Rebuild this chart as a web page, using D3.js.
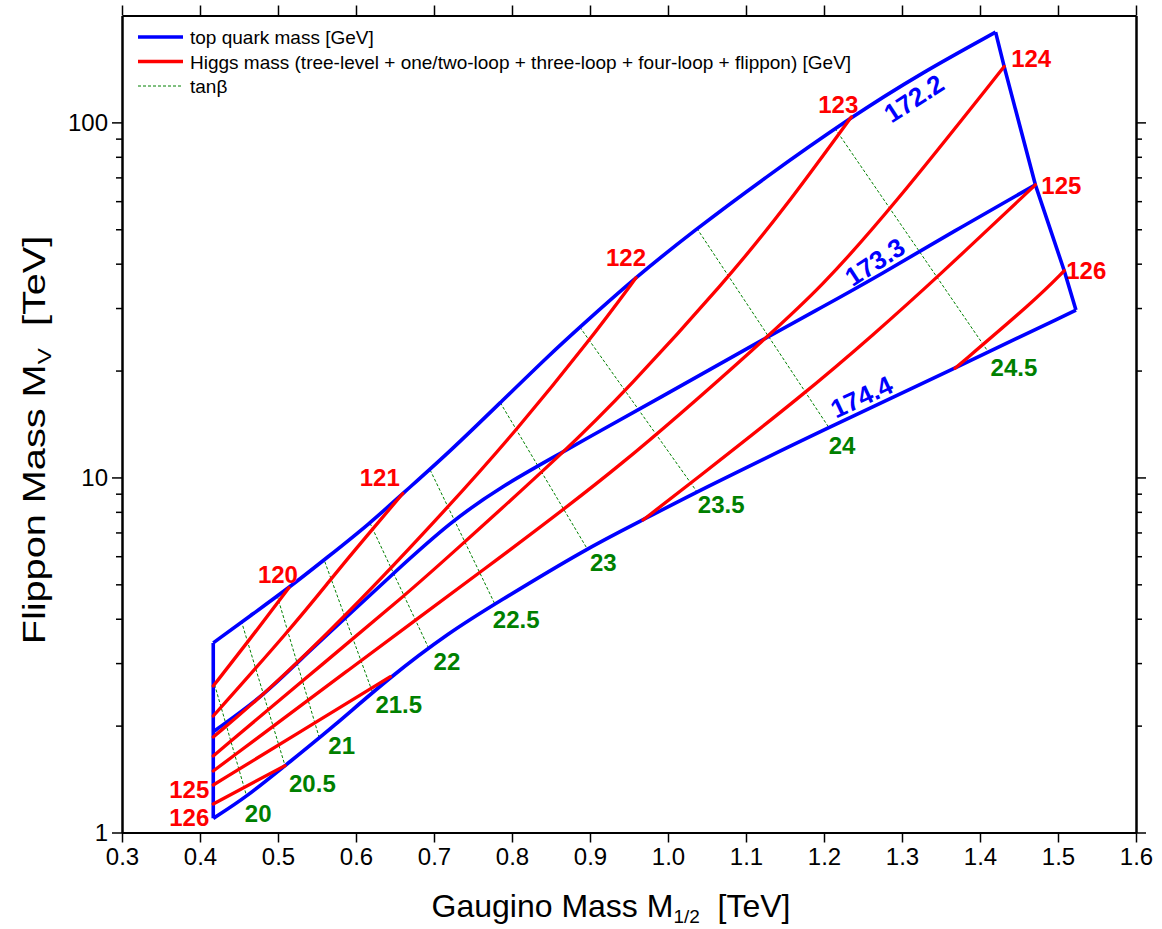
<!DOCTYPE html>
<html>
<head>
<meta charset="utf-8">
<script src="https://cdn.jsdelivr.net/npm/d3@7"></script>
<style>
  body { margin: 0; background: #fff; }
  svg text { font-family: "Liberation Sans", Arial, sans-serif; }
  .axis .domain { stroke: #000; stroke-width: 2; }
  .axis .tick line { stroke: #000; stroke-width: 1.5; }
  .axis .tick text { font-size: 24px; fill: #000; font-family: "Liberation Sans", Arial, sans-serif; }
</style>
</head>
<body>
<div id="chart"></div>
<script>
// axis ticks
const xTicks = [0.3, 0.4, 0.5, 0.6, 0.7, 0.8, 0.9, 1.0, 1.1, 1.2, 1.3, 1.4, 1.5, 1.6];
const yMajor = [1, 10, 100];
const yMinor = [2, 3, 4, 5, 6, 7, 8, 9, 20, 30, 40, 50, 60, 70, 80, 90];

// top quark mass contours [GeV]  (M1/2 [TeV], MV [TeV])
const mtopLabels = ['172.2', '173.3', '174.4'];
const mt1722 = [[0.417, 3.42], [0.464, 4.07], [0.515, 4.91], [0.563, 5.95], [0.618, 7.43], [0.660, 9.01],
  [0.721, 11.86], [0.785, 16.24], [0.849, 22.25], [0.887, 26.51], [0.958, 36.54],
  [1.032, 49.3], [1.122, 69.3], [1.235, 103.6], [1.323, 137.0], [1.420, 179.5]];
const mt1733 = [[0.417, 1.922], [0.480, 2.413], [0.528, 3.062], [0.586, 4.012], [0.648, 5.372],
  [0.721, 7.49], [0.785, 9.40], [0.866, 11.82], [0.913, 13.52], [0.977, 16.18], [1.127, 24.83],
  [1.195, 29.96], [1.272, 37.2], [1.366, 49.3], [1.471, 66.7]];
const mt1744 = [[0.417, 1.096], [0.460, 1.261], [0.509, 1.543], [0.571, 1.986], [0.644, 2.747],
  [0.721, 3.678], [0.778, 4.402], [0.896, 6.318], [0.968, 7.59], [1.037, 9.12],
  [1.206, 13.85], [1.368, 20.3], [1.523, 29.6]];
// edges of the allowed region
const rightEdge = [[1.420, 179.5], [1.431, 143.6], [1.471, 66.7], [1.508, 38.2], [1.523, 29.6]];
const leftEdge = [[0.417, 1.096], [0.417, 3.42]];

// Higgs mass contours [GeV]
const higgsLabels = ['120', '121', '122', '123', '124', '125', '125', '126', '126'];
const higgs120 = [[0.417, 2.586], [0.460, 3.412], [0.514, 4.89]];
const higgs121 = [[0.417, 2.129], [0.515, 3.72], [0.567, 5.14], [0.592, 6.01], [0.660, 9.01]];
const higgs122 = [[0.417, 1.858], [0.480, 2.424], [0.586, 4.046], [0.721, 8.37], [0.806, 13.6], [0.900, 24.4], [0.959, 36.5]];
const higgs123 = [[0.417, 1.643], [0.528, 2.637], [0.661, 4.615], [0.721, 6.05], [0.870, 11.96], [0.947, 17.64],
  [1.075, 36.0], [1.148, 56.7], [1.235, 103.6]];
const higgs124 = [[0.417, 1.490], [0.592, 2.888], [0.763, 5.49], [0.938, 10.61], [1.127, 24.83], [1.195, 34.1],
  [1.285, 56.7], [1.431, 143.6]];
const higgs125a = [[0.417, 1.361], [0.528, 1.919], [0.644, 2.747]];
const higgs125b = [[0.968, 7.59], [1.030, 9.67], [1.176, 17.27], [1.263, 25.2], [1.344, 36.4], [1.471, 66.7]];
const higgs126a = [[0.417, 1.203], [0.509, 1.543]];
const higgs126b = [[1.368, 20.3], [1.471, 31.6], [1.508, 38.2]];

// tan(beta) lines
const tanbValues = ['20', '20.5', '21', '21.5', '22', '22.5', '23', '23.5', '24', '24.5'];
const tanbStart = [[0.417, 2.69], [0.453, 3.94], [0.499, 4.64], [0.560, 5.79], [0.618, 7.43], [0.695, 10.5],
  [0.785, 16.24], [0.887, 26.51], [1.037, 50.3], [1.214, 96.2]];
const tanbEnd = [[0.460, 1.261], [0.509, 1.543], [0.553, 1.846], [0.621, 2.488], [0.693, 3.31], [0.778, 4.402],
  [0.896, 6.318], [1.037, 9.12], [1.206, 13.85], [1.411, 22.5]];

const width = 1162, height = 929;
const svg = d3.select('#chart').append('svg')
  .attr('width', width)
  .attr('height', height);

const x = d3.scaleLinear().domain([0.3, 1.6]).range([122, 1136]);
const y = d3.scaleLog().domain([1, 200]).range([832.5, 15.5]);

const line = d3.line().x(d => x(d[0])).y(d => y(d[1]));
const smooth = d3.line().x(d => x(d[0])).y(d => y(d[1])).curve(d3.curveBasis);

// tan beta dotted lines, label offsets in px from the lower end
const tanbLabelOffset = [[-2, 25], [4, 26], [9, 16], [3, 21], [5, 22], [-2, 24], [3, 23], [1, 21], [0, 27], [2, 24]];
const tanb = svg.append('g');
tanbValues.forEach((v, i) => {
  tanb.append('path')
    .attr('d', line([tanbStart[i], tanbEnd[i]]))
    .attr('fill', 'none')
    .attr('stroke', '#008000')
    .attr('stroke-width', 1)
    .attr('stroke-dasharray', '3,2');
  tanb.append('text')
    .attr('x', x(tanbEnd[i][0]) + tanbLabelOffset[i][0])
    .attr('y', y(tanbEnd[i][1]) + tanbLabelOffset[i][1])
    .attr('font-size', 24)
    .attr('font-weight', 'bold')
    .attr('fill', '#008000')
    .text(v);
});

// top quark mass lines
const blue = svg.append('g').attr('fill', 'none').attr('stroke', '#0000ff').attr('stroke-width', 3.6)
  .attr('stroke-linejoin', 'round');
[mt1722, mt1733, mt1744].forEach(s => blue.append('path').attr('d', smooth(s)));
blue.append('path').attr('d', line(rightEdge));
blue.append('path').attr('d', line(leftEdge));

// higgs mass lines
const higgsSeries = [higgs120, higgs121, higgs122, higgs123, higgs124, higgs125a, higgs125b, higgs126a, higgs126b];
const red = svg.append('g').attr('fill', 'none').attr('stroke', '#ff0000').attr('stroke-width', 3.3)
  .attr('stroke-linecap', 'round');
higgsSeries.forEach(s => red.append('path').attr('d', smooth(s)));

// higgs labels: [series index, first (0) or last (1) point, dx, dy]
const higgsLabelPlace = [[0, 1, -11, -5], [1, 1, -23, -8], [2, 1, -10, -12], [3, 1, -13, -4], [4, 1, 27, 0],
  [6, 1, 26, 9], [5, 0, -24, 13], [8, 1, 22, 8], [7, 0, -24, 22]];
higgsLabelPlace.forEach(p => {
  const s = higgsSeries[p[0]];
  const pt = p[1] ? s[s.length - 1] : s[0];
  svg.append('text')
    .attr('x', x(pt[0]) + p[2])
    .attr('y', y(pt[1]) + p[3])
    .attr('text-anchor', 'middle')
    .attr('font-size', 24)
    .attr('font-weight', 'bold')
    .attr('fill', '#ff0000')
    .text(higgsLabels[p[0]]);
});

// top mass labels along the curves
const mtopLabelPos = [[1.315, 117, -33], [1.265, 40.5, -33], [1.248, 16.9, -25]];
mtopLabels.forEach((t, i) => {
  const p = mtopLabelPos[i];
  svg.append('text')
    .attr('transform', `translate(${x(p[0])},${y(p[1])}) rotate(${p[2]})`)
    .attr('text-anchor', 'middle')
    .attr('dy', '0.36em')
    .attr('font-size', 26)
    .attr('font-weight', 'bold')
    .attr('fill', '#0000ff')
    .text(t);
});

// axes
svg.append('g').attr('class', 'axis')
  .attr('transform', `translate(0,${y(1)})`)
  .call(d3.axisBottom(x).tickValues(xTicks).tickFormat(d3.format('.1f')).tickSize(10).tickSizeOuter(0).tickPadding(5));
svg.append('g').attr('class', 'axis')
  .attr('transform', `translate(0,${y(200)})`)
  .call(d3.axisTop(x).tickValues(xTicks).tickFormat('').tickSize(10).tickSizeOuter(0));
svg.append('g').attr('class', 'axis')
  .attr('transform', `translate(${x(0.3)},0)`)
  .call(d3.axisLeft(y).tickValues(yMajor).tickFormat(d3.format('d')).tickSize(10).tickSizeOuter(0).tickPadding(4));
svg.append('g').attr('class', 'axis')
  .attr('transform', `translate(${x(0.3)},0)`)
  .call(d3.axisLeft(y).tickValues(yMinor).tickFormat('').tickSize(6).tickSizeOuter(0));
svg.append('g').attr('class', 'axis')
  .attr('transform', `translate(${x(1.6)},0)`)
  .call(d3.axisRight(y).tickValues(yMajor).tickFormat('').tickSize(10).tickSizeOuter(0));
svg.append('g').attr('class', 'axis')
  .attr('transform', `translate(${x(1.6)},0)`)
  .call(d3.axisRight(y).tickValues(yMinor).tickFormat('').tickSize(6).tickSizeOuter(0));

// axis titles
const xt = svg.append('text')
  .attr('x', 611).attr('y', 917)
  .attr('text-anchor', 'middle')
  .attr('font-size', 32);
xt.append('tspan').text('Gaugino Mass M');
xt.append('tspan').attr('font-size', 19).attr('dy', 6).text('1/2');
xt.append('tspan').attr('dy', -6).text('\u00a0 [TeV]');

// the y title in the reference is drawn longer along its reading direction
const yt = svg.append('text')
  .attr('transform', 'translate(45,440) rotate(-90) scale(1.28,1)')
  .attr('text-anchor', 'middle')
  .attr('font-size', 31);
yt.append('tspan').text('Flippon Mass M');
yt.append('tspan').attr('font-size', 19).attr('dy', 6).text('V');
yt.append('tspan').attr('dy', -6).text('\u00a0 [TeV]');

// legend
const legendItems = [
  { label: 'top quark mass [GeV]', color: '#0000ff', w: 3.5, dash: null },
  { label: 'Higgs mass (tree-level + one/two-loop + three-loop + four-loop + flippon) [GeV]', color: '#ff0000', w: 3.5, dash: null },
  { label: 'tan\u03b2', color: '#008000', w: 1, dash: '3,2' }
];
const legend = svg.append('g');
legendItems.forEach((d, i) => {
  const ly = 37 + i * 24.5;
  legend.append('line')
    .attr('x1', 138).attr('x2', 183).attr('y1', ly).attr('y2', ly)
    .attr('stroke', d.color).attr('stroke-width', d.w)
    .attr('stroke-dasharray', d.dash);
  legend.append('text')
    .attr('x', 190).attr('y', ly + 7)
    .attr('font-size', 19)
    .text(d.label);
});
</script>
</body>
</html>
